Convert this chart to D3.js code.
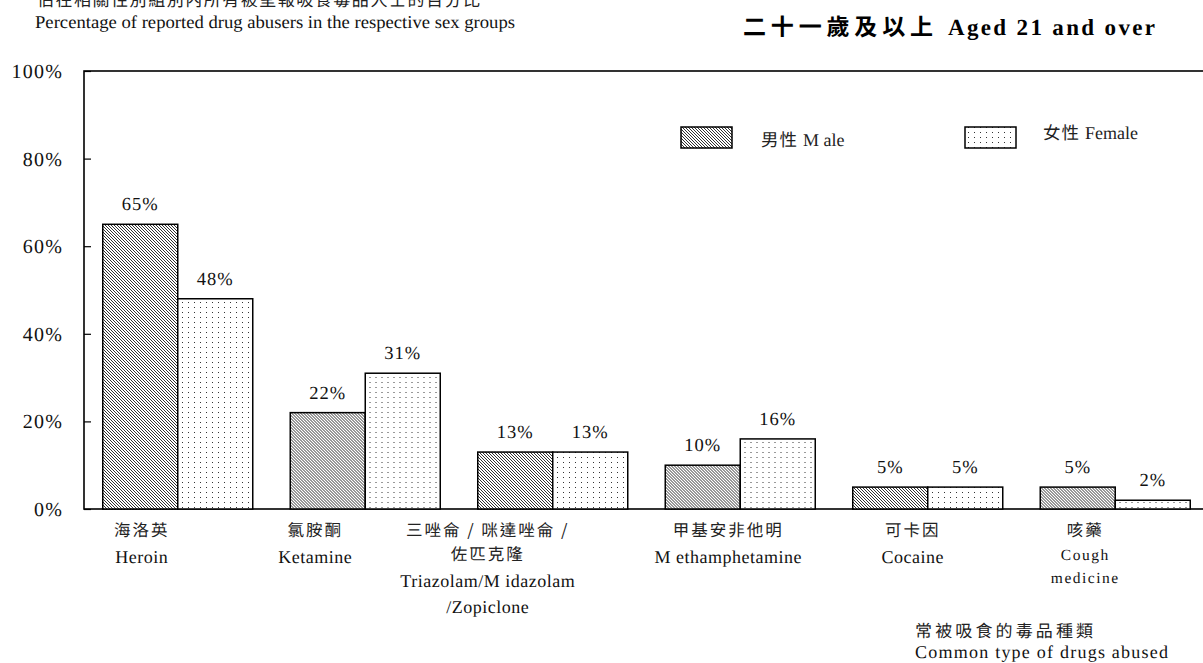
<!DOCTYPE html>
<html>
<head>
<meta charset="utf-8">
<script src="https://cdn.jsdelivr.net/npm/d3@7"></script>
<style>
  html, body { margin: 0; padding: 0; background: #fff; overflow: hidden; }
  svg { display: block; }
  .en { font-family: "Liberation Serif", "Times New Roman", serif; }
  .zh { font-family: "Noto Sans CJK TC", "Noto Sans CJK SC", sans-serif; }
</style>
</head>
<body>
<script>
// ---- data -------------------------------------------------------------
const categoriesZh = [
  ["海洛英"],
  ["氯胺酮"],
  ["三唑侖 / 咪達唑侖 /", "佐匹克隆"],
  ["甲基安非他明"],
  ["可卡因"],
  ["咳藥"]
];
const categoriesEn = [
  ["Heroin"],
  ["Ketamine"],
  ["Triazolam/M idazolam", "/Zopiclone"],
  ["M ethamphetamine"],
  ["Cocaine"],
  ["Cough", "medicine"]
];
const maleShare   = [65, 22, 13, 10, 5, 5];   // % of male abusers
const femaleShare = [48, 31, 13, 16, 5, 2];   // % of female abusers
const yTickValues = [0, 20, 40, 60, 80, 100];
const seriesKeys  = ["male", "female"];
const seriesZh    = ["男性", "女性"];
const seriesEn    = ["M ale", "Female"];

// ---- layout -----------------------------------------------------------
const W = 1203, H = 663;
const plot = { left: 84, top: 71, right: 1209, bottom: 509 };
// horizontal nudge of each category caption relative to its group centre
const captionShift = [-36, -50, -65, -12, -15, -30];

const svg = d3.select("body").append("svg")
  .attr("width", W).attr("height", H)
  .attr("text-rendering", "geometricPrecision");

const defs = svg.append("defs");
const hatch = defs.append("pattern")
  .attr("id", "hatchMale").attr("patternUnits", "userSpaceOnUse")
  .attr("width", 3).attr("height", 3);
hatch.append("rect").attr("width", 3).attr("height", 3).attr("fill", "#fff");
hatch.append("path")
  .attr("d", "M-1,-1L4,4M-1,2L1,4M2,-1L4,1")
  .attr("stroke", "#1a1a1a").attr("stroke-width", 0.9);

const dots = defs.append("pattern")
  .attr("id", "dotsFemale").attr("patternUnits", "userSpaceOnUse")
  .attr("width", 6).attr("height", 5);
dots.append("rect").attr("width", 6).attr("height", 5).attr("fill", "#fff");
dots.append("rect").attr("x", 2).attr("y", 2).attr("width", 1).attr("height", 1).attr("fill", "#333");

const fills = { male: "url(#hatchMale)", female: "url(#dotsFemale)" };

// ---- scales -----------------------------------------------------------
const idx = d3.range(maleShare.length);
const x0 = d3.scaleBand().domain(idx).range([plot.left, plot.right]).padding(0);
const x1 = d3.scaleBand().domain(seriesKeys).range([0, x0.bandwidth()])
  .paddingInner(0).paddingOuter(0.25);
const y = d3.scaleLinear().domain([0, 100]).range([plot.bottom, plot.top]);

const rows = idx.map(i => ({ i, male: maleShare[i], female: femaleShare[i] }));

// ---- titles -----------------------------------------------------------
svg.append("text").attr("class", "zh")
  .attr("x", 37).attr("y", 6)
  .attr("font-size", 17).attr("fill", "#222")
  .attr("textLength", 443).attr("lengthAdjust", "spacing")
  .text("佔在相關性別組別內所有被呈報吸食毒品人士的百分比");

svg.append("text").attr("class", "en")
  .attr("x", 35).attr("y", 28)
  .attr("font-size", 18).attr("fill", "#111")
  .attr("textLength", 480).attr("lengthAdjust", "spacingAndGlyphs")
  .text("Percentage of reported drug abusers in the respective sex groups");

svg.append("text").attr("class", "zh")
  .attr("x", 743).attr("y", 35)
  .attr("font-size", 23).attr("font-weight", 700).attr("fill", "#000")
  .attr("textLength", 190).attr("lengthAdjust", "spacing")
  .text("二十一歲及以上");
svg.append("text").attr("class", "en")
  .attr("x", 948).attr("y", 35)
  .attr("font-size", 23).attr("font-weight", 700).attr("fill", "#000")
  .attr("textLength", 207).attr("lengthAdjust", "spacing")
  .text("Aged 21 and over");

// ---- frame & y axis ---------------------------------------------------
svg.append("rect")
  .attr("x", plot.left).attr("y", plot.top)
  .attr("width", plot.right - plot.left).attr("height", plot.bottom - plot.top)
  .attr("fill", "none").attr("stroke", "#000").attr("stroke-width", 1.6);

const yAxis = svg.append("g")
  .attr("transform", `translate(${plot.left},0)`)
  .call(d3.axisLeft(y).tickValues(yTickValues)
    .tickFormat(d => d + "%").tickSizeInner(-7).tickSizeOuter(0).tickPadding(21));
yAxis.select(".domain").remove();
yAxis.selectAll(".tick line").attr("stroke", "#000").attr("stroke-width", 1.2);
yAxis.selectAll(".tick text")
  .attr("class", "en").attr("font-size", 20).attr("fill", "#111")
  .attr("letter-spacing", 1.2);

// ---- bars -------------------------------------------------------------
const groups = svg.append("g").selectAll("g").data(rows).join("g")
  .attr("transform", d => `translate(${x0(d.i)},0)`);

groups.selectAll("rect")
  .data(d => seriesKeys.map(k => ({ key: k, value: d[k] })))
  .join("rect")
  .attr("x", d => x1(d.key))
  .attr("y", d => y(d.value))
  .attr("width", x1.bandwidth())
  .attr("height", d => y(0) - y(d.value))
  .attr("fill", d => fills[d.key])
  .attr("stroke", "#000").attr("stroke-width", 1.5);

groups.selectAll("text.val")
  .data(d => seriesKeys.map(k => ({ key: k, value: d[k] })))
  .join("text")
  .attr("class", "val en")
  .attr("x", d => x1(d.key) + x1.bandwidth() / 2)
  .attr("y", d => y(d.value) - 14)
  .attr("text-anchor", "middle")
  .attr("font-size", 18.5).attr("fill", "#111")
  .attr("letter-spacing", 1)
  .text(d => d.value + "%");

// ---- category captions (one text block per category) --------------------
const captions = svg.append("g").selectAll("text").data(rows).join("text")
  .attr("transform", d => `translate(${x0(d.i) + x0.bandwidth() / 2 + captionShift[d.i]},0)`)
  .attr("text-anchor", "middle");

captions.each(function (d) {
  const t = d3.select(this);
  const zh = categoriesZh[d.i], en = categoriesEn[d.i];
  const small = en.length > 1 && zh.length === 1;
  let yy = 536;
  zh.forEach((line, k) => {
    t.append("tspan").attr("class", "zh")
      .attr("x", 0).attr("y", yy)
      .attr("font-size", 16.5).attr("fill", "#222").attr("letter-spacing", 2)
      .text(line);
    if (k < zh.length - 1) yy += 24;
  });
  yy += small ? 24 : 27;
  en.forEach(line => {
    t.append("tspan").attr("class", "en")
      .attr("x", 0).attr("y", yy)
      .attr("font-size", small ? 15.5 : 18).attr("fill", "#111")
      .attr("letter-spacing", small ? 1.5 : 0.5)
      .text(line);
    yy += small ? 23 : 26;
  });
});

// ---- legend -----------------------------------------------------------
const legendPos = [
  { sx: 681, tx: 761, ty: 146 },
  { sx: 965, tx: 1043, ty: 139 }
];
seriesKeys.forEach((k, i) => {
  const p = legendPos[i];
  svg.append("rect")
    .attr("x", p.sx).attr("y", 127).attr("width", 51).attr("height", 21)
    .attr("fill", fills[k]).attr("stroke", "#000").attr("stroke-width", 1.5);
  const t = svg.append("text").attr("x", p.tx).attr("y", p.ty).attr("fill", "#222");
  t.append("tspan").attr("class", "zh").attr("font-size", 17.5).attr("letter-spacing", 1)
    .text(seriesZh[i] + " ");
  t.append("tspan").attr("class", "en").attr("font-size", 18)
    .text(seriesEn[i]);
});

// ---- x axis title -----------------------------------------------------
svg.append("text").attr("class", "zh")
  .attr("x", 915).attr("y", 637)
  .attr("font-size", 17).attr("fill", "#222")
  .attr("textLength", 178).attr("lengthAdjust", "spacing")
  .text("常被吸食的毒品種類");
svg.append("text").attr("class", "en")
  .attr("x", 915).attr("y", 658)
  .attr("font-size", 18).attr("fill", "#111")
  .attr("textLength", 253).attr("lengthAdjust", "spacing")
  .text("Common type of drugs abused");
</script>
</body>
</html>
